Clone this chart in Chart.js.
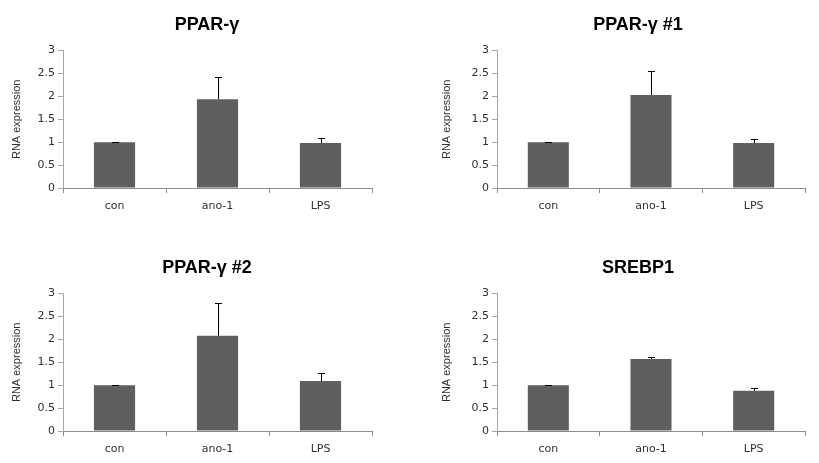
<!DOCTYPE html>
<html>
<head>
<meta charset="utf-8">
<script src="https://cdn.jsdelivr.net/npm/chart.js@4.4.1/dist/chart.umd.min.js"></script>
<style>
  html, body { margin: 0; padding: 0; background: #fff; width: 819px; height: 463px; overflow: hidden; position: relative; }
  canvas { position: absolute; }
</style>
</head>
<body>
<canvas id="c1"></canvas>
<canvas id="c2"></canvas>
<canvas id="c3"></canvas>
<canvas id="c4"></canvas>
<script>
// dados
const categorias = ["con", "ano-1", "LPS"];
const titulos = ["PPAR-γ", "PPAR-γ #1", "PPAR-γ #2", "SREBP1"];
const ppargValores = [1.0, 1.94, 0.98];
const ppargErros = [0.01, 0.48, 0.115];
const pparg1Valores = [1.0, 2.03, 0.98];
const pparg1Erros = [0.01, 0.53, 0.085];
const pparg2Valores = [1.0, 2.08, 1.09];
const pparg2Erros = [0.01, 0.71, 0.17];
const srebp1Valores = [1.0, 1.57, 0.88];
const srebp1Erros = [0.01, 0.05, 0.06];
const tickLabelsY = ["0", "0.5", "1", "1.5", "2", "2.5", "3"];

const series = [
  { valores: ppargValores, erros: ppargErros },
  { valores: pparg1Valores, erros: pparg1Erros },
  { valores: pparg2Valores, erros: pparg2Erros },
  { valores: srebp1Valores, erros: srebp1Erros }
];

// posicao de cada painel
const paineis = [
  { id: "c1", left: 0, top: 0, w: 414, h: 218, yW: 63, rW: 42 },
  { id: "c2", left: 430, top: 0, w: 416, h: 218, yW: 67, rW: 41 },
  { id: "c3", left: 0, top: 243, w: 414, h: 218, yW: 63, rW: 42 },
  { id: "c4", left: 430, top: 243, w: 416, h: 218, yW: 67, rW: 41 }
];

// barras de erro (so para cima)
const barrasErro = {
  id: "barrasErro",
  afterDatasetsDraw(chart) {
    const ctx = chart.ctx;
    const y = chart.scales.y;
    chart.data.datasets.forEach((ds, i) => {
      chart.getDatasetMeta(i).data.forEach((bar, j) => {
        const topo = Math.round(y.getPixelForValue(ds.data[j] + ds.erros[j])) + 0.5;
        const x = Math.round(bar.x) + 0.5;
        ctx.save();
        ctx.strokeStyle = "#000";
        ctx.lineWidth = 1;
        ctx.beginPath();
        ctx.moveTo(x, bar.y);
        ctx.lineTo(x, topo);
        ctx.moveTo(x - 3.5, topo);
        ctx.lineTo(x + 3.5, topo);
        ctx.stroke();
        ctx.restore();
      });
    });
  }
};

function desenharPainel(p, titulo, s) {
  const canvas = document.getElementById(p.id);
  canvas.width = p.w;
  canvas.height = p.h;
  canvas.style.left = p.left + "px";
  canvas.style.top = p.top + "px";
  new Chart(canvas.getContext("2d"), {
    type: "bar",
    data: {
      labels: categorias,
      datasets: [{
        data: s.valores,
        erros: s.erros,
        backgroundColor: "#5f5f5f",
        borderWidth: 0,
        categoryPercentage: 1,
        barPercentage: 0.4
      }]
    },
    options: {
      responsive: false,
      animation: false,
      devicePixelRatio: 1,
      layout: { padding: 0 },
      plugins: {
        legend: { display: false },
        tooltip: { enabled: false },
        title: {
          display: true,
          text: titulo,
          color: "#000",
          font: { family: "'Liberation Sans', Arial, sans-serif", size: 18, weight: "bold" },
          padding: { top: 14, bottom: 15 }
        }
      },
      scales: {
        x: {
          grid: { drawOnChartArea: false, drawTicks: true, tickLength: 5, color: "#8c8c8c", offset: true },
          border: { display: true, color: "#8c8c8c" },
          ticks: { color: "#303030", padding: 7, font: { family: "'DejaVu Sans', Verdana, sans-serif", size: 11 } },
          afterFit: a => { a.height = 30; }
        },
        y: {
          min: 0,
          max: 3,
          ticks: {
            stepSize: 0.5,
            padding: 3,
            color: "#303030",
            font: { family: "'DejaVu Sans', Verdana, sans-serif", size: 11 },
            callback: (v, i) => tickLabelsY[i]
          },
          grid: { drawOnChartArea: false, drawTicks: true, tickLength: 5, color: "#a6a6a6" },
          border: { display: true, color: "#a6a6a6" },
          title: {
            display: true,
            text: "RNA expression",
            color: "#303030",
            font: { family: "'Liberation Sans', Arial, sans-serif", size: 11 },
            padding: { top: 10, bottom: 0 }
          },
          afterFit: a => { a.width = p.yW; }
        },
        yR: {
          type: "linear",
          position: "right",
          display: true,
          grid: { display: false },
          border: { display: false },
          ticks: { display: false },
          afterFit: a => { a.width = p.rW; }
        }
      }
    },
    plugins: [barrasErro]
  });
}

// Execução
paineis.forEach((p, i) => desenharPainel(p, titulos[i], series[i]));
</script>
</body>
</html>
